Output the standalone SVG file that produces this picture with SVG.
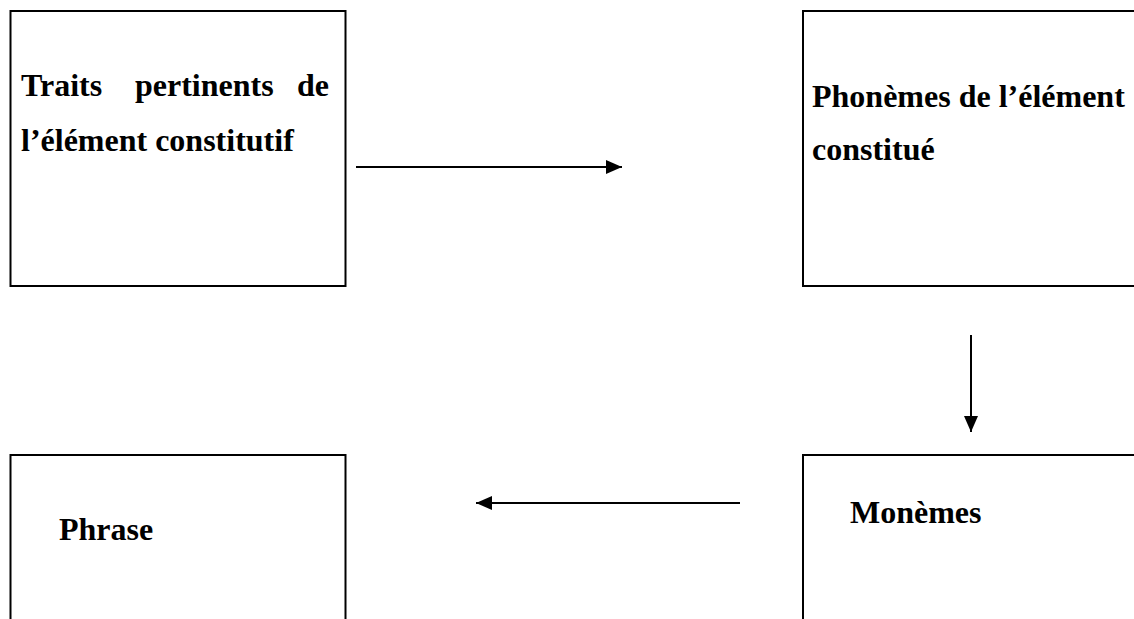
<svg xmlns="http://www.w3.org/2000/svg" width="1134" height="619" viewBox="0 0 1134 619">
<style>
.box{fill:#fff;stroke:#000;stroke-width:2}
.t{font-family:"Liberation Serif","Times New Roman",serif;font-weight:bold;font-size:32px;fill:#000}
.c{stroke:#000;stroke-width:2;fill:none}
</style>
<defs>
<marker id="ah" viewBox="0 0 16 14" refX="16" refY="7" markerWidth="16" markerHeight="14" markerUnits="userSpaceOnUse" orient="auto">
<path d="M0,0 L16,7 L0,14 z" fill="#000"/>
</marker>
</defs>
<rect width="1134" height="619" fill="#fff"/>
<g id="n1">
<rect class="box" x="10.5" y="11" width="335" height="275"/>
<text class="t" y="96"><tspan x="21">Traits</tspan><tspan x="135">pertinents</tspan><tspan x="329" text-anchor="end">de</tspan></text>
<text class="t" x="21" y="151">l’élément constitutif</text>
</g>
<g id="n2">
<rect class="box" x="803" y="11" width="340" height="275"/>
<text class="t" x="812" y="107">Phonèmes de l’élément</text>
<text class="t" x="812" y="160">constitué</text>
</g>
<g id="n3">
<rect class="box" x="803" y="455" width="340" height="180"/>
<text class="t" x="850" y="523">Monèmes</text>
</g>
<g id="n4">
<rect class="box" x="10.5" y="455" width="335" height="180"/>
<text class="t" x="59" y="540">Phrase</text>
</g>
<g id="connectors">
<line class="c" x1="356" y1="167" x2="622" y2="167" marker-end="url(#ah)"/>
<line class="c" x1="971" y1="335" x2="971" y2="432" marker-end="url(#ah)"/>
<line class="c" x1="740" y1="503" x2="476" y2="503" marker-end="url(#ah)"/>
</g>
</svg>
